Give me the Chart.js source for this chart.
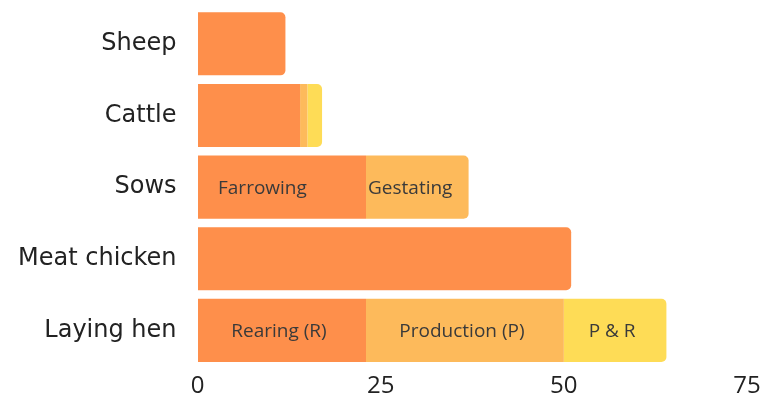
<!DOCTYPE html>
<html>
<head>
<meta charset="utf-8">
<script src="https://cdn.jsdelivr.net/npm/chart.js@4"></script>
<style>
  html, body { margin: 0; padding: 0; background: #fff; }
  #wrap { width: 765px; height: 401px; }
</style>
</head>
<body>
<div id="wrap"><canvas id="myChart"></canvas></div>
<script>
// categories and stage durations
const categories = ['Sheep', 'Cattle', 'Sows', 'Meat chicken', 'Laying hen'];
const stage1 = [12, 14, 23, 51, 23];
const stage2 = [0, 1, 14, 0, 27];
const stage3 = [0, 2, 0, 0, 14];
const xTicks = [0, 25, 50, 75];

// text written inside segments: [dataset, category, text]
const segLabels = [
    [0, 2, 'Farrowing'],
    [1, 2, 'Gestating'],
    [0, 4, 'Rearing (R)'],
    [1, 4, 'Production (P)'],
    [2, 4, 'P & R']
];

const colors = ['#FE8F4B', '#FDBA5B', '#FEDC56'];
const series = [stage1, stage2, stage3];

function lastStage(i) {
    let last = 0;
    series.forEach((s, k) => { if (s[i] > 0) last = k; });
    return last;
}

const labelPlugin = {
    id: 'segLabels',
    afterDatasetsDraw(chart) {
        const ctx = chart.ctx;
        ctx.save();
        ctx.font = '19px "Open Sans"';
        ctx.fillStyle = '#3a3a3a';
        ctx.textBaseline = 'middle';
        segLabels.forEach(([d, i, txt]) => {
            const el = chart.getDatasetMeta(d).data[i];
            const left = el.base, right = el.x;
            let x;
            if (i === 2) {
                ctx.textAlign = 'left';
                x = left + (d === 0 ? 20 : 2);
            } else {
                ctx.textAlign = 'center';
                x = (left + right) / 2 - 3;
            }
            ctx.fillText(txt, x, el.y + 1);
        });
        ctx.restore();
    }
};

const ctx = document.getElementById('myChart').getContext('2d');
const chart = new Chart(ctx, {
    type: 'bar',
    data: {
        labels: categories,
        datasets: series.map((s, k) => ({
            label: 'stage' + (k + 1),
            data: s,
            backgroundColor: colors[k],
            borderWidth: 0,
            borderSkipped: false,
            inflateAmount: 0,
            borderRadius: c => (lastStage(c.dataIndex) === k
                ? { topLeft: 0, bottomLeft: 0, topRight: 5, bottomRight: 5 } : 0),
            barPercentage: 0.88,
            categoryPercentage: 1
        }))
    },
    options: {
        indexAxis: 'y',
        responsive: true,
        maintainAspectRatio: false,
        animation: false,
        layout: { padding: { top: 0, right: 18, bottom: 0, left: 18 } },
        plugins: { legend: { display: false }, tooltip: { enabled: false } },
        scales: {
            x: {
                stacked: true, min: 0, max: 75,
                afterBuildTicks: ax => { ax.ticks = xTicks.map(v => ({ value: v })); },
                grid: { display: true, color: 'transparent', drawOnChartArea: false, tickLength: 6 },
                border: { display: false },
                ticks: { color: '#222', font: { family: '"Open Sans"', size: 24 }, padding: 0 }
            },
            y: {
                stacked: true,
                grid: { display: true, color: 'transparent', drawOnChartArea: false, tickLength: 21 },
                border: { display: false },
                ticks: { color: '#222', font: { family: '"DejaVu Sans"', size: 24, lineHeight: 0.67 }, padding: 0 }
            }
        }
    },
    plugins: [labelPlugin]
});
</script>
</body>
</html>
